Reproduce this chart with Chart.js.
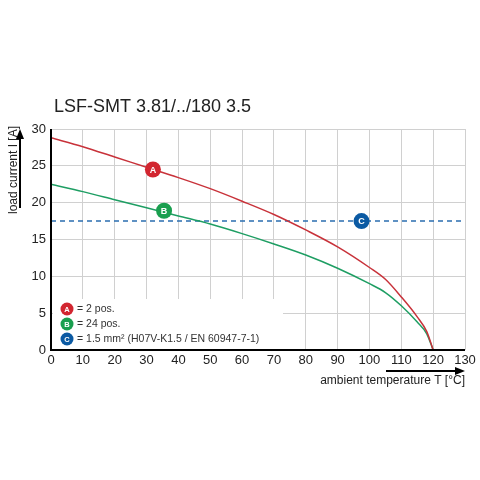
<!DOCTYPE html>
<html><head><meta charset="utf-8">
<script src="https://cdn.jsdelivr.net/npm/chart.js@4/dist/chart.umd.min.js"></script>
<style>html,body{margin:0;background:#fff}#c{display:block}</style>
</head><body>
<canvas id="c" width="480" height="480"></canvas>
<script>
const temps = [0,10,20,30,40,50,60,70,80,90,100,105,110,115,118,120];
const currentA = [28.8,27.6,26.2,24.8,23.4,21.9,20.2,18.4,16.3,14.0,11.2,9.6,7.2,4.5,2.5,0];
const currentB = [22.5,21.5,20.4,19.3,18.2,17.1,15.8,14.4,12.9,11.1,9.0,7.8,6.0,3.8,2.2,0];
const wireLimit = 17.5;
const markerLabels = ["A","B","C"];
const markerPos = [{x:32,y:24.5},{x:35.5,y:18.9},{x:97.5,y:17.5}];
const markerColors = ["#d22630","#1a9f4f","#0b5aa3"];
const legendTexts = ["= 2 pos.","= 24 pos.","= 1.5 mm² (H07V-K1.5 / EN 60947-7-1)"];
const xTicks = [0,10,20,30,40,50,60,70,80,90,100,110,120,130];
const yTicks = [0,5,10,15,20,25,30];

const font = "Liberation Sans, Arial, sans-serif";

function circle(ctx,x,y,r,color,label){
    ctx.beginPath(); ctx.arc(x,y,r,0,Math.PI*2);
    ctx.fillStyle=color; ctx.fill();
    ctx.fillStyle="#fff"; ctx.font="bold "+(r+1)+"px "+font;
    ctx.textAlign="center"; ctx.textBaseline="middle";
    ctx.fillText(label,x,y+0.5);
}

const deco = {
    id:"deco",
    beforeDatasetsDraw(chart){
        const ctx=chart.ctx, a=chart.chartArea;
        // white patch behind legend
        ctx.save(); ctx.fillStyle="#fff";
        ctx.fillRect(a.left+2,299,230,50);
        ctx.restore();
    },
    afterDatasetsDraw(chart){
        const ctx=chart.ctx, a=chart.chartArea, x=chart.scales.x, y=chart.scales.y;
        ctx.save();
        // axes
        ctx.strokeStyle="#000"; ctx.lineWidth=2;
        ctx.beginPath(); ctx.moveTo(a.left,a.top); ctx.lineTo(a.left,a.bottom); ctx.lineTo(a.right,a.bottom); ctx.stroke();
        markerLabels.forEach((l,i)=>circle(ctx,x.getPixelForValue(markerPos[i].x),y.getPixelForValue(markerPos[i].y),8,markerColors[i],l));
        legendTexts.forEach((t,i)=>{
            const yy=309+i*15;
            circle(ctx,67,yy,6.5,markerColors[i],markerLabels[i]);
            ctx.fillStyle="#333"; ctx.font="10.5px "+font; ctx.textAlign="left"; ctx.textBaseline="middle";
            ctx.fillText(t,77,yy);
        });
        // title
        ctx.fillStyle="#222"; ctx.font="18px "+font; ctx.textAlign="left"; ctx.textBaseline="alphabetic";
        ctx.fillText("LSF-SMT 3.81/../180 3.5",54,112);
        // x title + arrow
        ctx.font="12px "+font; ctx.textAlign="right"; ctx.fillStyle="#222";
        ctx.fillText("ambient temperature T [°C]",465,384);
        ctx.strokeStyle="#000"; ctx.lineWidth=2;
        ctx.beginPath(); ctx.moveTo(386,371); ctx.lineTo(456,371); ctx.stroke();
        ctx.beginPath(); ctx.moveTo(465,371); ctx.lineTo(455,367); ctx.lineTo(455,375); ctx.closePath(); ctx.fillStyle="#000"; ctx.fill();
        // y title + arrow
        ctx.save(); ctx.translate(14,170); ctx.rotate(-Math.PI/2);
        ctx.fillStyle="#222"; ctx.textAlign="center"; ctx.textBaseline="middle";
        ctx.fillText("load current I [A]",0,0); ctx.restore();
        ctx.beginPath(); ctx.moveTo(20,208); ctx.lineTo(20,138); ctx.stroke();
        ctx.beginPath(); ctx.moveTo(20,129); ctx.lineTo(16,139); ctx.lineTo(24,139); ctx.closePath(); ctx.fill();
        ctx.restore();
    }
};

new Chart(document.getElementById("c"),{
    type:"line",
    data:{
        datasets:[
            {data:temps.map((t,i)=>({x:t,y:currentA[i]})),borderColor:"#c8323a",borderWidth:1.5,pointRadius:0,tension:0.4,cubicInterpolationMode:"monotone"},
            {data:temps.map((t,i)=>({x:t,y:currentB[i]})),borderColor:"#1e9e63",borderWidth:1.5,pointRadius:0,cubicInterpolationMode:"monotone"},
            {data:[{x:0,y:wireLimit},{x:130,y:wireLimit}],borderColor:"#2a6db0",borderWidth:1.5,borderDash:[5,4],pointRadius:0}
        ]
    },
    options:{
        responsive:false, animation:false,
        layout:{ padding:{left:0,top:129,right:15,bottom:110} },
        plugins:{ legend:{display:false}, tooltip:{enabled:false} },
        scales:{
            x:{ type:"linear", min:0, max:130,
                afterBuildTicks(ax){ ax.ticks=xTicks.map(v=>({value:v})); },
                afterFit(ax){ ax.height=20; },
                grid:{ color:"#d0d0d0", drawTicks:false },
                border:{ display:false },
                ticks:{ color:"#222", font:{family:font,size:13}, padding:3, maxRotation:0 } },
            y:{ min:0, max:30,
                afterBuildTicks(ax){ ax.ticks=yTicks.map(v=>({value:v})); },
                afterFit(ax){ ax.width=51; },
                grid:{ color:"#d0d0d0", drawTicks:false },
                border:{ display:false },
                ticks:{ color:"#222", font:{family:font,size:13}, padding:5 } }
        }
    },
    plugins:[deco]
});
</script>
</body></html>
